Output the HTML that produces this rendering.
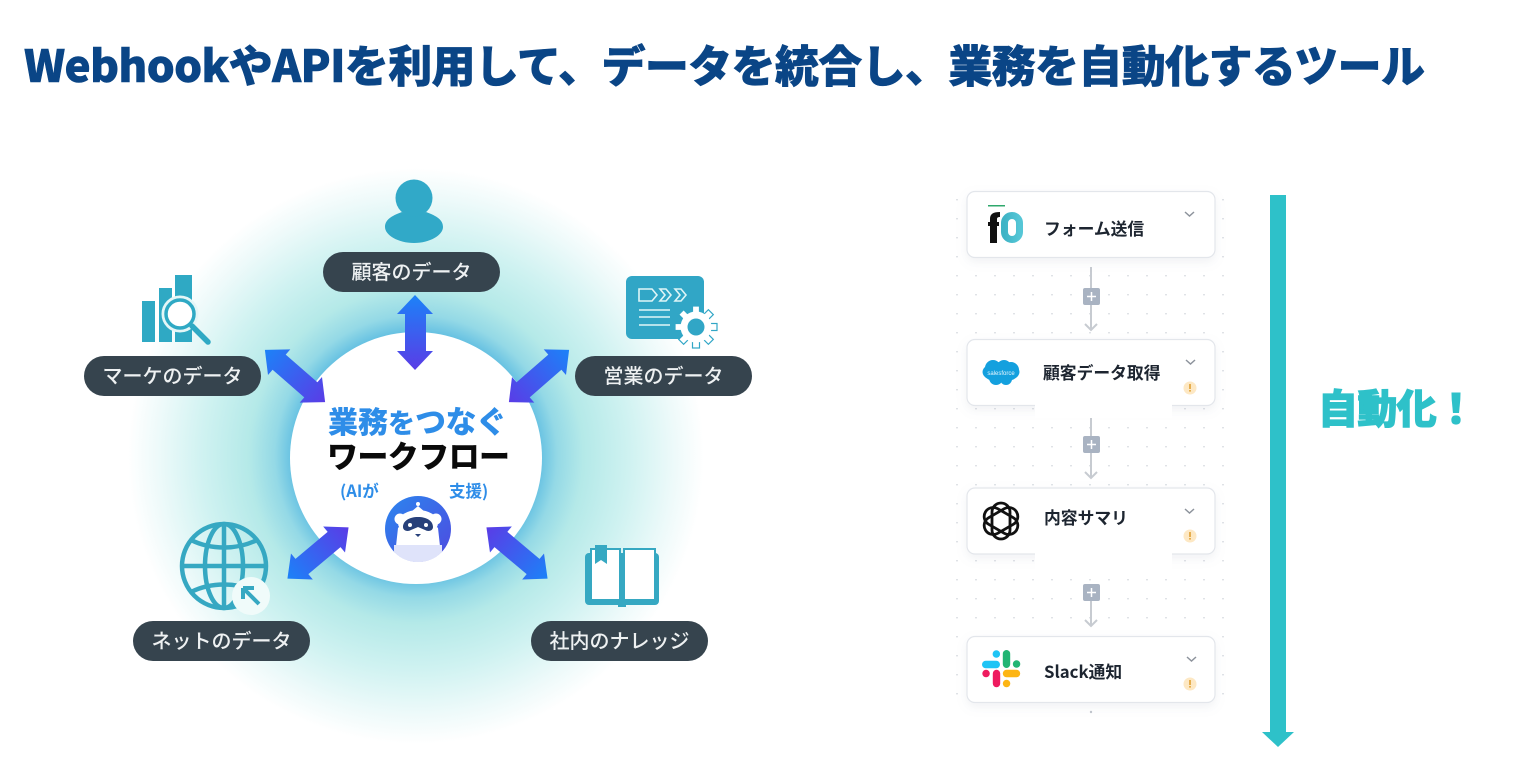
<!DOCTYPE html>
<html lang="ja"><head><meta charset="utf-8"><style>
html,body{margin:0;padding:0;background:#fff;width:1517px;height:759px;overflow:hidden}
svg{display:block}
text{font-family:"Noto Sans CJK JP","Liberation Sans",sans-serif}
.p{fill:#eef1f2;font-size:20px;font-weight:500;text-anchor:middle}
.c{fill:#1d2530;font-size:16.800px;font-weight:700}
</style></head><body>
<svg width="1517" height="759" viewBox="0 0 1517 759" xmlns="http://www.w3.org/2000/svg">
<defs>
<radialGradient id="glow" gradientUnits="userSpaceOnUse" cx="416" cy="456" r="288">
<stop offset="0.43" stop-color="#66c1e2"/>
<stop offset="0.49" stop-color="#94d9e6"/>
<stop offset="0.58" stop-color="#b4e9e8"/>
<stop offset="0.74" stop-color="#cff2f1"/>
<stop offset="0.9" stop-color="#eefafa"/>
<stop offset="1" stop-color="#ffffff"/>
</radialGradient>
<linearGradient id="ar" x1="0" y1="0" x2="0" y2="1">
<stop offset="0" stop-color="#1c82f8"/><stop offset="1" stop-color="#5a3ce6"/>
</linearGradient>
<linearGradient id="pan" x1="0" y1="0" x2="1" y2="1">
<stop offset="0" stop-color="#2b86ee"/><stop offset="1" stop-color="#4f49e0"/>
</linearGradient>
<linearGradient id="zero" x1="0" y1="0" x2="1" y2="0">
<stop offset="0" stop-color="#3fb4c6"/><stop offset="1" stop-color="#55c6d6"/>
</linearGradient>
<clipPath id="panclip"><circle cx="418" cy="529" r="33"/></clipPath>
<pattern id="dots" width="19" height="19" patternUnits="userSpaceOnUse" x="953" y="190">
<rect x="3" y="9" width="2" height="1.400" fill="#dfe2e6"/>
</pattern>
<filter id="sh" x="-10%" y="-20%" width="120%" height="150%"><feDropShadow dx="0" dy="4" stdDeviation="5" flood-color="#8a94a6" flood-opacity=".12"/></filter>
</defs>

<text x="24" y="82" font-size="44" font-weight="900" fill="#0a4586" stroke="#0a4586" stroke-width="0.600" textLength="1401" lengthAdjust="spacing">WebhookやAPIを利用して、データを統合し、業務を自動化するツール</text>

<circle cx="416" cy="456" r="288" fill="url(#glow)"/>
<circle cx="416" cy="458" r="126" fill="#fff"/>

<!-- arrows -->
<polygon points="415,295 433,314 426,314 426,351 433,351 415,370 397,351 405,351 405,314 397,314" fill="url(#ar)"/>
<polygon transform="translate(295,376) rotate(-49) scale(1,1.05)" points="0,-38 17,-20 10,-20 10,20 17,20 0,38 -17,20 -10,20 -10,-20 -17,-20" fill="url(#ar)"/>
<polygon transform="translate(539,376) rotate(49) scale(1,1.05)" points="0,-38 17,-20 10,-20 10,20 17,20 0,38 -17,20 -10,20 -10,-20 -17,-20" fill="url(#ar)"/>
<polygon transform="translate(318,553) rotate(-130) scale(1,1.05)" points="0,-38 17,-20 10,-20 10,20 17,20 0,38 -17,20 -10,20 -10,-20 -17,-20" fill="url(#ar)"/>
<polygon transform="translate(517,553) rotate(130) scale(1,1.05)" points="0,-38 17,-20 10,-20 10,20 17,20 0,38 -17,20 -10,20 -10,-20 -17,-20" fill="url(#ar)"/>

<!-- pills -->
<rect x="323" y="252" width="177" height="40" rx="20" fill="#36444e"/>
<text class="p" x="411.500" y="279">顧客のデータ</text>
<rect x="84" y="356" width="177" height="40" rx="20" fill="#36444e"/>
<text class="p" x="172.500" y="383">マーケのデータ</text>
<rect x="575" y="356" width="177" height="40" rx="20" fill="#36444e"/>
<text class="p" x="663.500" y="383">営業のデータ</text>
<rect x="133" y="621" width="177" height="40" rx="20" fill="#36444e"/>
<text class="p" x="221.500" y="648">ネットのデータ</text>
<rect x="531" y="621" width="177" height="40" rx="20" fill="#36444e"/>
<text class="p" x="619.500" y="648">社内のナレッジ</text>

<!-- person -->
<path d="M385 227c0-7 6-11 17-15 7 5 17 5 24 0 11 4 17 8 17 15 0 8-13 16-29 16s-29-8-29-16z" fill="#31a9c8"/>
<circle cx="414" cy="198" r="18.500" fill="#31a9c8"/>

<!-- chart -->
<rect x="142" y="301" width="13" height="41" fill="#2fa9c4"/>
<rect x="159" y="288" width="13" height="54" fill="#2fa9c4"/>
<rect x="175" y="275" width="17" height="67" fill="#2fa9c4"/>
<circle cx="180" cy="314" r="17" fill="#fff" stroke="#e4f6f7" stroke-width="3"/>
<circle cx="180" cy="314" r="14" fill="#fff" stroke="#2fa9c4" stroke-width="3.500"/>
<line x1="192" y1="326" x2="208" y2="342" stroke="#2fa9c4" stroke-width="5.500" stroke-linecap="round"/>

<!-- sales doc -->
<rect x="626" y="276" width="78" height="63" rx="6" fill="#31a6c6"/>
<g fill="none" stroke="#dff5f7" stroke-width="1.600">
<path d="M639 289h13l5 6-5 6h-13z"/><path d="M660 289h6l5 6-5 6h-6l5-6z"/><path d="M675 289h6l5 6-5 6h-6l5-6z"/>
<path d="M639 310h31M639 317h31M639 325h31"/>
</g>
<!-- gear -->
<g transform="translate(696,327)" fill="#fff" stroke="#31a6c6" stroke-width="1.200">
<rect x="-3.500" y="-21" width="7" height="8"/>
<rect x="-3.500" y="-21" width="7" height="8" transform="rotate(45)"/>
<rect x="-3.500" y="-21" width="7" height="8" transform="rotate(90)"/>
<rect x="-3.500" y="-21" width="7" height="8" transform="rotate(135)"/>
<rect x="-3.500" y="-21" width="7" height="8" transform="rotate(180)"/>
<rect x="-3.500" y="-21" width="7" height="8" transform="rotate(225)"/>
<rect x="-3.500" y="-21" width="7" height="8" transform="rotate(270)"/>
<rect x="-3.500" y="-21" width="7" height="8" transform="rotate(315)"/>
<circle r="15.500" stroke="none"/>
<circle r="8.500" fill="#31a6c6" stroke="none"/>
</g>

<!-- globe -->
<g fill="none" stroke="#36a8c2" stroke-width="4.500">
<circle cx="224" cy="566" r="42"/>
<ellipse cx="224" cy="566" rx="19" ry="42"/>
<line x1="224" y1="524" x2="224" y2="608"/>
<line x1="182" y1="566" x2="266" y2="566"/>
<path d="M191 540c20 10 46 10 66 0M191 592c20-10 46-10 66 0"/>
</g>
<circle cx="251" cy="596" r="19" fill="#f0fbfa"/>
<path d="M243 588v11M243 588h11M243 588l16 16" fill="none" stroke="#36a8c2" stroke-width="4"/>

<!-- book -->
<rect x="585" y="553" width="74" height="52" rx="4" fill="#36a8c2"/>
<rect x="618" y="603" width="8" height="4" fill="#36a8c2"/>
<rect x="591" y="549" width="29" height="51" fill="#fff" stroke="#36a8c2" stroke-width="2"/>
<rect x="624" y="549" width="31" height="51" fill="#fff" stroke="#36a8c2" stroke-width="2"/>
<path d="M595 545h12v19l-6-4-6 4z" fill="#36a8c2"/>

<!-- centre text -->
<text x="328" y="433" font-size="30" font-weight="900" fill="#2e8de8">業務</text>
<text x="388" y="433" font-size="27" font-weight="900" fill="#2e8de8">を</text>
<text x="415" y="433" font-size="31" font-weight="900" fill="#2e8de8" textLength="92">つなぐ</text>
<text x="327" y="468" font-size="31" font-weight="900" fill="#0a0a0a" textLength="183">ワークフロー</text>
<text x="340" y="497" font-size="16.500" font-weight="700" fill="#2e8de8">(AIが</text>
<text x="449" y="497" font-size="16.500" font-weight="700" fill="#2e8de8">支援)</text>

<!-- panda -->
<circle cx="418" cy="529" r="33" fill="url(#pan)"/>
<g clip-path="url(#panclip)">
<path d="M398 528c0-3 40-3 40 0l4 36h-48z" fill="#fff"/>
<path d="M394 545h48v20h-48z" fill="#dfe3fa"/>
</g>
<circle cx="400" cy="519" r="5.500" fill="#fff"/><circle cx="436" cy="519" r="5.500" fill="#fff"/>
<ellipse cx="418" cy="523" rx="20" ry="13" fill="#fff"/>
<path d="M411 512l7-6 7 6z" fill="#fff"/><circle cx="418" cy="504" r="2" fill="#fff"/>
<path d="M403 527c0-6 6-10 15-10s15 4 15 10c0 4-5 5-8 3l-7-3-7 3c-3 2-8 1-8-3z" fill="#27407a"/>
<circle cx="410" cy="525" r="2" fill="#fff"/><circle cx="426" cy="525" r="2" fill="#fff"/>
<path d="M415 534h6l-3 3z" fill="#27407a"/>

<!-- workflow background -->
<rect x="953" y="190" width="278" height="518" fill="url(#dots)"/>

<!-- connectors -->
<g stroke="#c7cbd1" stroke-width="2" fill="none">
<path d="M1091 267v63M1085 324l6 6 6-6"/>
<path d="M1091 417v61M1085 472l6 6 6-6"/>
<path d="M1091 600v26M1085 620l6 6 6-6"/>
</g>
<g fill="#a9b3c2">
<rect x="1083" y="288" width="17" height="17" rx="2"/>
<rect x="1083" y="436" width="17" height="17" rx="2"/>
<rect x="1083" y="584" width="17" height="17" rx="2"/>
</g>
<g stroke="#fff" stroke-width="1.500">
<path d="M1087 296.500h9M1091.500 292v9"/>
<path d="M1087 444.500h9M1091.500 440v9"/>
<path d="M1087 592.500h9M1091.500 588v9"/>
</g>

<!-- cards -->
<g fill="#fff" stroke="#e3e6eb" stroke-width="1.200" filter="url(#sh)">
<rect x="967" y="191.500" width="248" height="66" rx="8"/>
<rect x="967" y="339.500" width="248" height="66" rx="8"/>
<rect x="967" y="488" width="248" height="66" rx="8"/>
<rect x="967" y="636.500" width="248" height="66" rx="8"/>
</g>
<rect x="1035" y="404" width="137" height="14" fill="#fff"/>
<rect x="1035" y="553" width="137" height="23" fill="#fff"/>
<circle cx="1091" cy="712" r="1.200" fill="#bfc4cb"/>

<!-- card text -->
<text class="c" x="1044" y="235">フォーム送信</text>
<text class="c" x="1043" y="379">顧客データ取得</text>
<text class="c" x="1044" y="524">内容サマリ</text>
<text class="c" x="1044" y="678" style="font-weight:700">Slack通知</text>

<!-- chevrons -->
<g fill="none" stroke="#8d939c" stroke-width="1.500">
<path d="M1185 212l4.500 4 4.500-4"/>
<path d="M1186 360l4.500 4 4.500-4"/>
<path d="M1185 509l4.500 4 4.500-4"/>
<path d="M1187 657l4.500 4 4.500-4"/>
</g>
<!-- warnings -->
<g fill="#fde8c4"><circle cx="1190" cy="388" r="6.500"/><circle cx="1190" cy="536" r="6.500"/><circle cx="1190" cy="684" r="6.500"/></g>
<g fill="#e0a030"><rect x="1189.200" y="384" width="1.600" height="5"/><rect x="1189.200" y="390" width="1.600" height="1.600"/><rect x="1189.200" y="532" width="1.600" height="5"/><rect x="1189.200" y="538" width="1.600" height="1.600"/><rect x="1189.200" y="680" width="1.600" height="5"/><rect x="1189.200" y="686" width="1.600" height="1.600"/></g>

<!-- f0 logo -->
<rect x="988" y="205" width="17" height="1.500" fill="#2fa86c"/>
<path d="M990 243V219c0-5 3-7 10-7v5c-2 0-3 .5-3 2v24z" fill="#111"/>
<rect x="988" y="222" width="11" height="4" fill="#111"/>
<rect x="1004.500" y="215.500" width="15" height="24" rx="7.500" fill="none" stroke="url(#zero)" stroke-width="7"/>

<!-- salesforce -->
<g fill="#14a0de">
<ellipse cx="1001" cy="372" rx="18.500" ry="10"/>
<circle cx="993" cy="368" r="8"/><circle cx="1004" cy="367" r="7"/><circle cx="1011" cy="370" r="8"/>
<circle cx="996" cy="378" r="7"/><circle cx="1006" cy="379" r="6"/>
</g>
<text x="1001" y="375" font-size="6" fill="#e6f6ff" text-anchor="middle" style="font-family:'Liberation Sans',sans-serif">salesforce</text>

<!-- openai -->
<g fill="none" stroke="#111" stroke-width="2.800" transform="translate(1001,521)">
<rect x="-9" y="-18" width="18" height="36" rx="9"/>
<rect x="-9" y="-18" width="18" height="36" rx="9" transform="rotate(60)"/>
<rect x="-9" y="-18" width="18" height="36" rx="9" transform="rotate(120)"/>
</g>

<!-- slack -->
<g stroke-width="7.400" stroke-linecap="round" fill="none">
<path d="M985.700 664.500H996.300" stroke="#1fc4f5"/>
<path d="M996.300 654h.1" stroke="#1fc4f5"/>
<path d="M1006.500 653.700V664.300" stroke="#22b573"/>
<path d="M1016.500 664h.1" stroke="#22b573"/>
<path d="M1006.500 673.500H1016.500" stroke="#fdb515"/>
<path d="M1006.500 683.500h.1" stroke="#fdb515"/>
<path d="M996.500 673.500V683.500" stroke="#ee1b5f"/>
<path d="M986 673.500h.1" stroke="#ee1b5f"/>
</g>

<!-- big arrow -->
<rect x="1270" y="195" width="16" height="538" fill="#2ec1c9"/>
<polygon points="1262,732 1294,732 1278,747" fill="#2ec1c9"/>
<text x="1318" y="423" font-size="40" font-weight="900" fill="#2ec1c9" stroke="#2ec1c9" stroke-width="1.200" textLength="158">自動化！</text>
</svg>
</body></html>
